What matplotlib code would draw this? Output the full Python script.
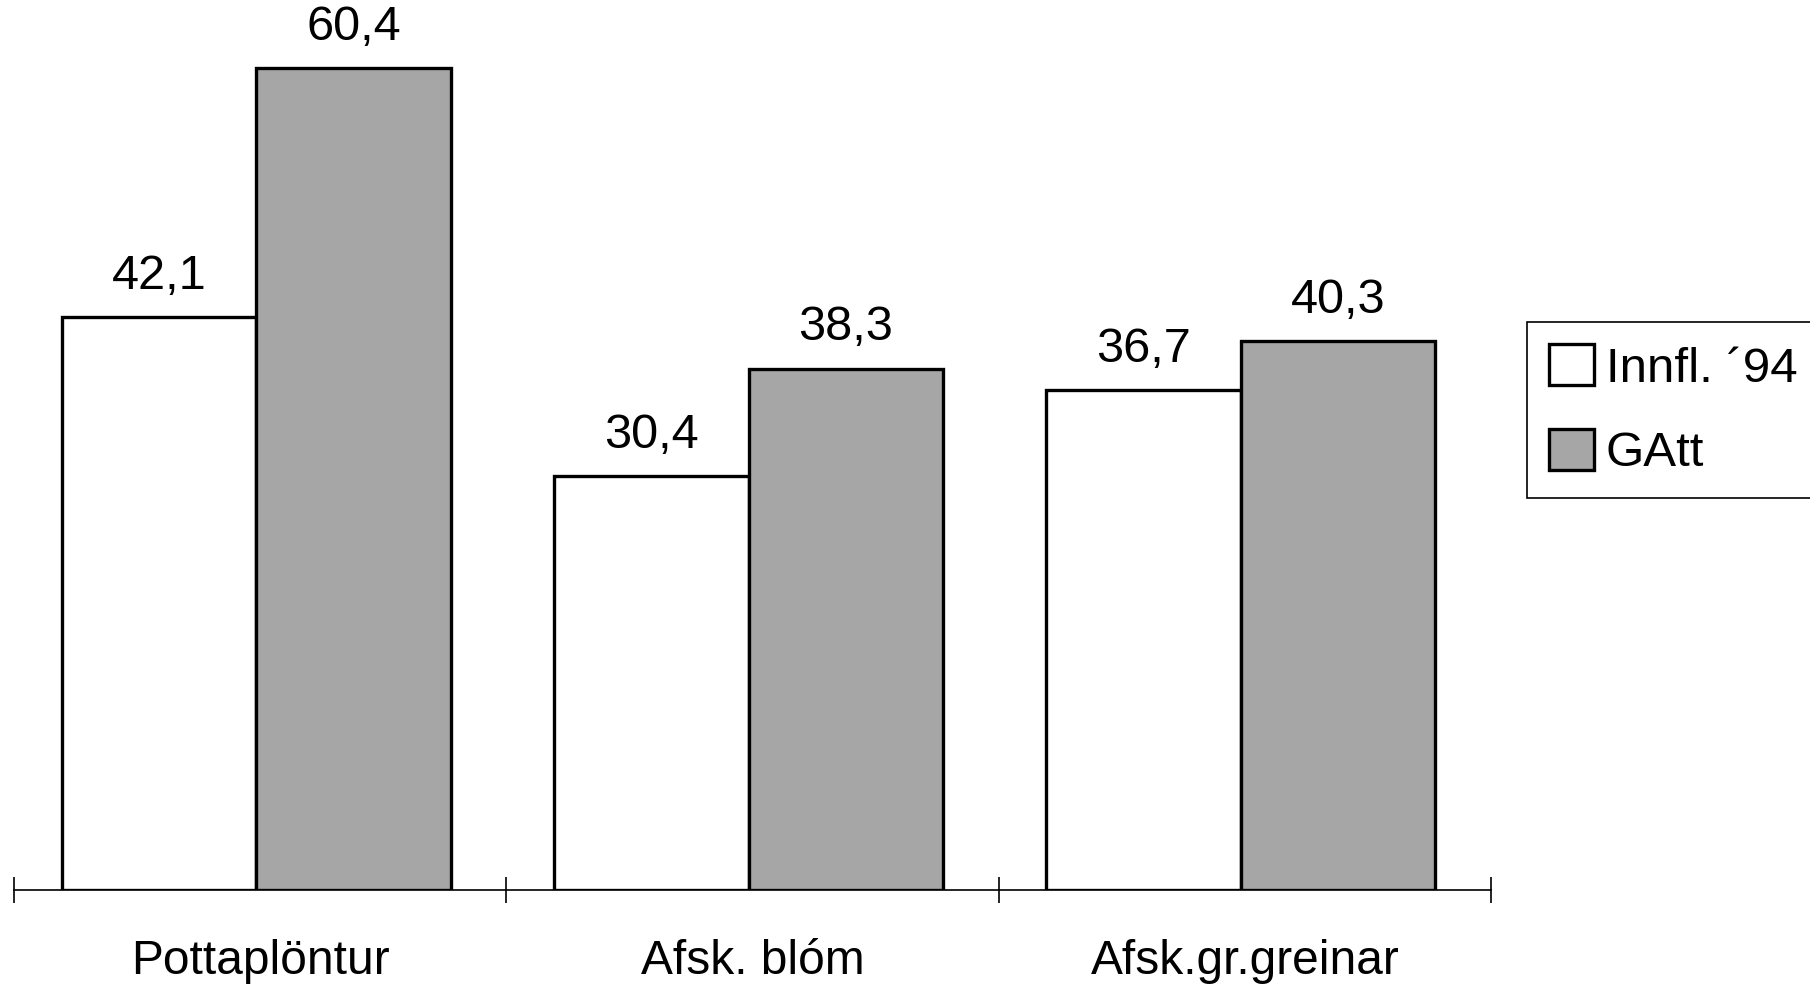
import matplotlib.pyplot as plt
from matplotlib.patches import Patch

plt.rcParams['font.family'] = ['Liberation Sans', 'DejaVu Sans']

categories = ['Pottaplöntur', 'Afsk. blóm', 'Afsk.gr.greinar']
innfl_94 = [42.1, 30.4, 36.7]
gatt = [60.4, 38.3, 40.3]
series_names = ['Innfl. \u00b494', 'GAtt']

grey = '#a6a6a6'

fig = plt.figure(figsize=(18.1, 9.84), dpi=100)
# axes placed so the baseline sits where the reference has it
ax = fig.add_axes([14 / 1810, 94 / 984, (1491 - 14) / 1810, 885 / 984])

x = list(range(len(categories)))
w = 0.395
shift = -0.008
b1 = ax.bar([i - w / 2 + shift for i in x], innfl_94, width=w, color='white',
            edgecolor='black', linewidth=2.4, zorder=3)
b2 = ax.bar([i + w / 2 + shift for i in x], gatt, width=w, color=grey,
            edgecolor='black', linewidth=2.4, zorder=3)

# value labels with comma decimals
for bars, vals in ((b1, innfl_94), (b2, gatt)):
    for r, v in zip(bars, vals):
        ax.annotate(f'{v:.1f}'.replace('.', ','),
                    (r.get_x() + r.get_width() / 2, v),
                    xytext=(0, 13), textcoords='offset points',
                    ha='center', va='bottom', fontsize=35)

ax.set_xlim(-0.5, len(categories) - 0.5)
ax.set_ylim(0, 65)

for s in ('left', 'right', 'top'):
    ax.spines[s].set_visible(False)
ax.spines['bottom'].set_linewidth(1.2)
ax.spines['bottom'].set_zorder(2)

ax.set_yticks([])
ax.set_xticks([i - 0.5 for i in range(len(categories) + 1)])
ax.set_xticklabels([])
ax.tick_params(axis='x', which='major', direction='inout', length=19, width=1.2)
ax.set_xticks(x, minor=True)
ax.set_xticklabels(categories, minor=True, fontsize=34.5)
ax.tick_params(axis='x', which='minor', length=0, pad=35)

handles = [Patch(facecolor='white', edgecolor='black', linewidth=2.4),
           Patch(facecolor=grey, edgecolor='black', linewidth=2.4)]
leg = fig.legend(handles, series_names, loc='upper left',
                 bbox_to_anchor=(1527 / 1810, 662 / 984 - 0.01, 0.3, 0.01),
                 mode='expand', borderaxespad=0, fontsize=35.5,
                 handlelength=0.9, handleheight=0.9, handletextpad=0.25,
                 labelspacing=0.75, borderpad=0.45, fancybox=False,
                 edgecolor='black', framealpha=1)
leg.get_frame().set_linewidth(1.2)

plt.savefig('out.png', dpi=100)
